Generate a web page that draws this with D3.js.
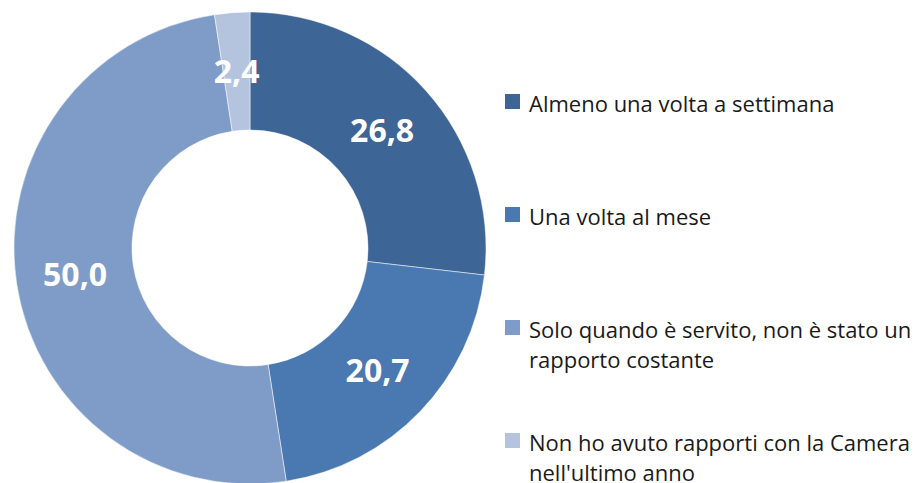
<!DOCTYPE html>
<html>
<head>
<meta charset="utf-8">
<script src="https://cdn.jsdelivr.net/npm/d3@7"></script>
<style>
  body { margin: 0; background: #fff; }
  text { font-family: "Open Sans", Lato, sans-serif; }
</style>
</head>
<body>
<script>
// data
var categories = ["Almeno una volta a settimana", "Una volta al mese",
                  "Solo quando è servito, non è stato un rapporto costante",
                  "Non ho avuto rapporti con la Camera nell'ultimo anno"];
var values = [26.8, 20.7, 50.0, 2.4];
var legendLines = [["Almeno una volta a settimana"], ["Una volta al mese"],
                   ["Solo quando è servito, non è stato un", "rapporto costante"],
                   ["Non ho avuto rapporti con la Camera", "nell'ultimo anno"]];
var colors = ["#3d6595", "#4a79b1", "#7e9cc7", "#b4c4df"];

var w = 916, h = 483, cx = 250, cy = 248, outerR = 236, innerR = 118;

var svg = d3.select("body").append("svg")
    .attr("width", w)
    .attr("height", h);

var pie = d3.pie().sort(null).value(function(d) { return d; });
var arc = d3.arc().innerRadius(innerR).outerRadius(outerR);
var arcs = pie(values);

var g = svg.append("g").attr("transform", "translate(" + cx + "," + cy + ")");

g.selectAll("path")
    .data(arcs)
    .enter()
    .append("path")
    .attr("d", arc)
    .attr("fill", function(d, i) { return colors[i]; })
    .attr("stroke", "#fff")
    .attr("stroke-width", 0.5);

var fmt = function(v) { return v.toFixed(1).replace(".", ","); };

g.selectAll("text.val")
    .data(arcs)
    .enter()
    .append("text")
    .attr("class", "val")
    .attr("x", function(d) { return arc.centroid(d)[0]; })
    .attr("y", function(d) { return arc.centroid(d)[1]; })
    .attr("dy", "0.36em")
    .attr("text-anchor", "middle")
    .attr("fill", "#fff")
    .attr("font-weight", "bold")
    .attr("font-size", 32)
    .text(function(d) { return fmt(d.data); });

// legend
var legendY = [94, 207, 320, 433];
var leg = svg.selectAll("g.leg")
    .data(categories)
    .enter()
    .append("g")
    .attr("class", "leg")
    .attr("transform", function(d, i) { return "translate(505," + legendY[i] + ")"; });

leg.append("rect")
    .attr("width", 15)
    .attr("height", 15)
    .attr("fill", function(d, i) { return colors[i]; });

leg.append("text")
    .attr("x", 24)
    .attr("y", 18)
    .attr("fill", "#1a1a1a")
    .attr("font-size", 22)
    .selectAll("tspan")
    .data(function(d, i) { return legendLines[i]; })
    .enter()
    .append("tspan")
    .attr("x", 24)
    .attr("dy", function(d, i) { return i === 0 ? 0 : 30; })
    .text(function(d) { return d; });
</script>
</body>
</html>
